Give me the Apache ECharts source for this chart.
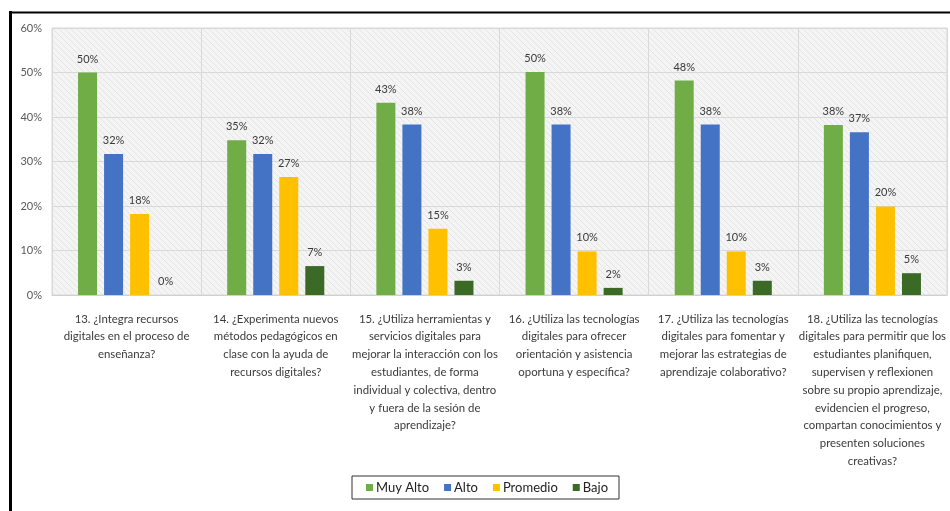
<!DOCTYPE html>
<html>
<head>
<meta charset="utf-8">
<script src="https://cdn.jsdelivr.net/npm/echarts@6/dist/echarts.min.js"></script>
<style>
  html, body { margin: 0; padding: 0; background: #fff; }
  #chart { width: 950px; height: 511px; }
</style>
</head>
<body>
<div id="chart"></div>
<script>
// categorías (preguntas)
const categories = [
  '13. ¿Integra recursos\ndigitales en el proceso de\nenseñanza?',
  '14. ¿Experimenta nuevos\nmétodos pedagógicos en\nclase con la ayuda de\nrecursos digitales?',
  '15. ¿Utiliza herramientas y\nservicios digitales para\nmejorar la interacción con los\nestudiantes, de forma\nindividual y colectiva, dentro\ny fuera de la sesión de\naprendizaje?',
  '16. ¿Utiliza las tecnologías\ndigitales para ofrecer\norientación y asistencia\noportuna y específica?',
  '17. ¿Utiliza las tecnologías\ndigitales para fomentar y\nmejorar las estrategias de\naprendizaje colaborativo?',
  '18. ¿Utiliza las tecnologías\ndigitales para permitir que los\nestudiantes planifiquen,\nsupervisen y reflexionen\nsobre su propio aprendizaje,\nevidencien el progreso,\ncompartan conocimientos y\npresenten soluciones\ncreativas?'
]
// valores en %
const muyAlto = [50, 34.8, 43.2, 50.1, 48.2, 38.2]
const alto = [31.7, 31.7, 38.3, 38.3, 38.3, 36.6]
const promedio = [18.2, 26.5, 14.9, 9.8, 9.8, 19.9]
const bajo = [0, 6.5, 3.2, 1.6, 3.2, 4.9]
const seriesNames = ['Muy Alto', 'Alto', 'Promedio', 'Bajo']
const colors = ['#70AD47', '#4472C4', '#FFC000', '#3b6a26']

const FONT = "Lato, 'Liberation Sans', sans-serif"

// tamaño de letra para que el ancho se parezca al original (Calibri)
const mctx = document.createElement('canvas').getContext('2d')
const fitSize = (text, target) => {
  mctx.font = '100px ' + FONT
  return Math.round(1000 * target / mctx.measureText(text).width) / 10
}
const xFont = fitSize('digitales para permitir que los', 147)
const numFont = fitSize('60%', 21.5)
const legFont = fitSize('Muy Alto', 53)

// fondo rayado del área de trazado
const pat = document.createElement('canvas')
pat.width = 6
pat.height = 6
const ctx = pat.getContext('2d')
ctx.fillStyle = '#f4f4f4'
ctx.fillRect(0, 0, 6, 6)
ctx.strokeStyle = '#e4e4e4'
ctx.lineWidth = 1
ctx.beginPath()
ctx.moveTo(-1, -1); ctx.lineTo(7, 7)
ctx.moveTo(-4, 2); ctx.lineTo(4, 10)
ctx.moveTo(2, -4); ctx.lineTo(10, 4)
ctx.stroke()

const makeSeries = (name, data, color) => ({
  name: name,
  type: 'bar',
  data: data,
  barWidth: 19,
  barGap: '37%',
  itemStyle: { color: color },
  label: {
    show: true,
    position: 'top',
    distance: 8,
    color: '#3a3a3a',
    fontFamily: FONT,
    fontSize: numFont,
    formatter: p => Math.round(p.value) + '%'
  }
})

const myChart = echarts.init(document.getElementById('chart'))
myChart.setOption({
  animation: false,
  grid: {
    left: 52,
    right: 3,
    top: 28,
    bottom: 216,
    show: true,
    borderColor: '#d9d9d9',
    borderWidth: 1,
    backgroundColor: { image: pat, repeat: 'repeat' }
  },
  legend: {
    data: seriesNames,
    left: 352,
    top: 476,
    icon: 'rect',
    itemWidth: 7,
    itemHeight: 7,
    itemGap: 15,
    padding: [5, 11, 5, 14],
    borderColor: '#333',
    borderWidth: 1,
    textStyle: { fontFamily: FONT, fontSize: legFont, color: '#222', padding: [0, 0, 0, -2] }
  },
  xAxis: {
    type: 'category',
    data: categories,
    axisTick: { show: false },
    axisLine: { lineStyle: { color: '#d0d0d0' } },
    splitLine: { show: true, interval: 0, lineStyle: { color: '#d9d9d9' } },
    axisLabel: {
      interval: 0,
      margin: 15,
      color: '#3a3a3a',
      fontFamily: FONT,
      fontSize: xFont,
      lineHeight: 17.8,
      align: 'center',
      verticalAlign: 'top'
    }
  },
  yAxis: {
    type: 'value',
    min: 0,
    max: 60,
    interval: 10,
    axisLine: { show: false },
    axisTick: { show: false },
    splitLine: { lineStyle: { color: '#d9d9d9' } },
    axisLabel: {
      formatter: '{value}%',
      margin: 10,
      color: '#595959',
      fontFamily: FONT,
      fontSize: numFont
    }
  },
  series: [
    makeSeries(seriesNames[0], muyAlto, colors[0]),
    makeSeries(seriesNames[1], alto, colors[1]),
    makeSeries(seriesNames[2], promedio, colors[2]),
    makeSeries(seriesNames[3], bajo, colors[3])
  ],
  graphic: [
    { type: 'line', shape: { x1: 10.5, y1: 11, x2: 10.5, y2: 520 }, style: { stroke: '#000', lineWidth: 3 } },
    { type: 'line', shape: { x1: 9, y1: 12.5, x2: 960, y2: 12.5 }, style: { stroke: '#000', lineWidth: 2 } }
  ]
})
</script>
</body>
</html>
